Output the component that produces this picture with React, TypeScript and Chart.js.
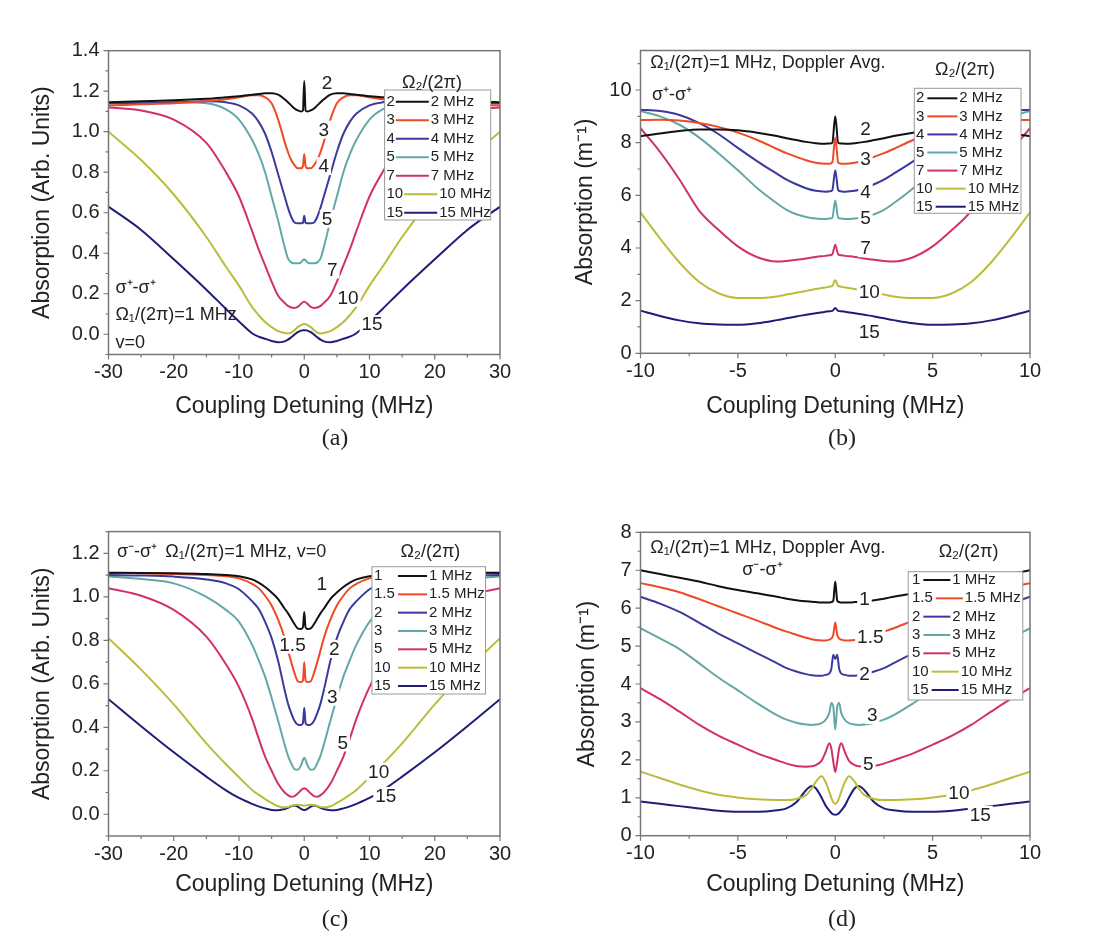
import React, { useEffect, useRef } from "react";
import { Chart, registerables } from "chart.js";

Chart.register(...registerables);

const FONT = "Arial, 'Liberation Sans', Helvetica, sans-serif";

// ---------------- data: panel (a) ----------------
const A_X = [-30, -25, -20, -15, -12, -10, -8, -7, -6, -5, -4, -3, -2.5, -2, -1.5, -1, -0.5, -0.2, 0, 0.2, 0.5, 1, 1.5, 2, 2.5, 3, 4, 5, 6, 7, 8, 10, 12, 15, 20, 25, 30];
const A_Y2 = [1.145, 1.15, 1.155, 1.163, 1.17, 1.175, 1.182, 1.186, 1.19, 1.19, 1.183, 1.16, 1.145, 1.13, 1.115, 1.105, 1.1, 1.105, 1.25, 1.105, 1.1, 1.105, 1.115, 1.13, 1.145, 1.16, 1.183, 1.19, 1.19, 1.186, 1.182, 1.175, 1.17, 1.163, 1.155, 1.15, 1.145];
const A_Y3 = [1.13, 1.135, 1.14, 1.15, 1.16, 1.17, 1.18, 1.18, 1.17, 1.14, 1.06, 0.95, 0.9, 0.86, 0.835, 0.82, 0.82, 0.83, 0.89, 0.83, 0.82, 0.82, 0.835, 0.86, 0.9, 0.95, 1.06, 1.14, 1.17, 1.18, 1.18, 1.17, 1.16, 1.15, 1.14, 1.135, 1.13];
const A_Y4 = [1.14, 1.14, 1.145, 1.15, 1.145, 1.13, 1.09, 1.05, 0.99, 0.9, 0.79, 0.68, 0.625, 0.58, 0.552, 0.548, 0.548, 0.55, 0.585, 0.55, 0.548, 0.548, 0.552, 0.58, 0.625, 0.68, 0.79, 0.9, 0.99, 1.05, 1.09, 1.13, 1.145, 1.15, 1.145, 1.14, 1.14];
const A_Y5 = [1.14, 1.14, 1.145, 1.14, 1.11, 1.06, 0.96, 0.89, 0.8, 0.68, 0.56, 0.43, 0.375, 0.355, 0.35, 0.35, 0.355, 0.365, 0.37, 0.365, 0.355, 0.35, 0.35, 0.355, 0.375, 0.43, 0.56, 0.68, 0.8, 0.89, 0.96, 1.06, 1.11, 1.14, 1.145, 1.14, 1.14];
const A_Y7 = [1.12, 1.105, 1.06, 0.945, 0.8, 0.68, 0.51, 0.42, 0.34, 0.26, 0.19, 0.155, 0.14, 0.132, 0.13, 0.135, 0.15, 0.158, 0.16, 0.158, 0.15, 0.135, 0.13, 0.132, 0.14, 0.155, 0.19, 0.26, 0.34, 0.42, 0.51, 0.68, 0.8, 0.945, 1.06, 1.105, 1.12];
const A_Y10 = [1.0, 0.86, 0.69, 0.48, 0.333, 0.24, 0.135, 0.095, 0.06, 0.035, 0.015, 0.006, 0.004, 0.008, 0.02, 0.035, 0.045, 0.049, 0.05, 0.049, 0.045, 0.035, 0.02, 0.008, 0.004, 0.006, 0.015, 0.035, 0.06, 0.095, 0.135, 0.24, 0.333, 0.48, 0.69, 0.86, 1.0];
const A_Y15 = [0.63, 0.515, 0.37, 0.22, 0.125, 0.063, 0.005, -0.012, -0.022, -0.033, -0.04, -0.035, -0.027, -0.015, -0.002, 0.01, 0.018, 0.02, 0.02, 0.02, 0.018, 0.01, -0.002, -0.015, -0.027, -0.035, -0.04, -0.033, -0.022, -0.012, 0.005, 0.063, 0.125, 0.22, 0.37, 0.515, 0.63];
const A_X_TICKS = [-30, -20, -10, 0, 10, 20, 30];
const A_Y_TICKS = [0, 0.2, 0.4, 0.6, 0.8, 1.0, 1.2, 1.4];
const A_KEYS = ["2", "3", "4", "5", "7", "10", "15"];

// ---------------- data: panel (b) ----------------
const B_X = [-10, -9, -8, -7, -6, -5, -4, -3, -2.5, -2, -1.5, -1, -0.5, -0.3, -0.15, 0, 0.15, 0.3, 0.5, 1, 1.5, 2, 2.5, 3, 4, 5, 6, 7, 8, 9, 10];
const B_Y2 = [8.24, 8.35, 8.44, 8.5, 8.5, 8.47, 8.38, 8.25, 8.17, 8.1, 8.03, 7.98, 7.96, 7.97, 8.0, 9.0, 8.0, 7.97, 7.96, 7.98, 8.03, 8.1, 8.17, 8.25, 8.38, 8.47, 8.5, 8.5, 8.44, 8.35, 8.24];
const B_Y3 = [8.86, 8.87, 8.84, 8.75, 8.6, 8.38, 8.1, 7.76, 7.6, 7.46, 7.33, 7.24, 7.2, 7.2, 7.25, 8.2, 7.25, 7.2, 7.2, 7.24, 7.33, 7.46, 7.6, 7.76, 8.1, 8.38, 8.6, 8.75, 8.84, 8.87, 8.86];
const B_Y4 = [9.25, 9.2, 9.05, 8.75, 8.33, 7.8, 7.29, 6.82, 6.6, 6.42, 6.27, 6.17, 6.14, 6.15, 6.2, 6.95, 6.2, 6.15, 6.14, 6.17, 6.27, 6.42, 6.6, 6.82, 7.29, 7.8, 8.33, 8.75, 9.05, 9.2, 9.25];
const B_Y5 = [9.2, 9.0, 8.68, 8.2, 7.6, 6.95, 6.27, 5.7, 5.45, 5.28, 5.18, 5.12, 5.1, 5.12, 5.15, 5.8, 5.15, 5.12, 5.1, 5.12, 5.18, 5.28, 5.45, 5.7, 6.27, 6.95, 7.6, 8.2, 8.68, 9.0, 9.2];
const B_Y7 = [8.55, 7.65, 6.6, 5.43, 4.69, 4.06, 3.65, 3.49, 3.51, 3.55, 3.6, 3.66, 3.7, 3.72, 3.76, 4.12, 3.76, 3.72, 3.7, 3.66, 3.6, 3.55, 3.51, 3.49, 3.65, 4.06, 4.69, 5.43, 6.6, 7.65, 8.55];
const B_Y10 = [5.35, 4.36, 3.45, 2.72, 2.28, 2.1, 2.1, 2.16, 2.23, 2.3, 2.37, 2.44, 2.5, 2.53, 2.56, 2.78, 2.56, 2.53, 2.5, 2.44, 2.37, 2.3, 2.23, 2.16, 2.1, 2.1, 2.28, 2.72, 3.45, 4.36, 5.35];
const B_Y15 = [1.62, 1.42, 1.25, 1.14, 1.09, 1.08, 1.14, 1.26, 1.33, 1.4, 1.46, 1.52, 1.58, 1.6, 1.61, 1.72, 1.61, 1.6, 1.58, 1.52, 1.46, 1.4, 1.33, 1.26, 1.14, 1.08, 1.09, 1.14, 1.25, 1.42, 1.62];
const B_X_TICKS = [-10, -5, 0, 5, 10];
const B_Y_TICKS = [0, 2, 4, 6, 8, 10];
const B_KEYS = ["2", "3", "4", "5", "7", "10", "15"];

// ---------------- data: panel (c) ----------------
const C_X = [-30, -25, -20, -15, -12, -10, -8, -7, -6, -5, -4, -3, -2.5, -2, -1.5, -1, -0.5, -0.2, 0, 0.2, 0.5, 1, 1.5, 2, 2.5, 3, 4, 5, 6, 7, 8, 10, 12, 15, 20, 25, 30];
const C_Y1 = [1.111, 1.11, 1.108, 1.105, 1.1, 1.095, 1.08, 1.065, 1.045, 1.02, 0.99, 0.945, 0.925, 0.9, 0.875, 0.855, 0.852, 0.86, 0.93, 0.86, 0.852, 0.855, 0.875, 0.9, 0.925, 0.945, 0.99, 1.02, 1.045, 1.065, 1.08, 1.095, 1.1, 1.105, 1.108, 1.11, 1.111];
const C_Y1_5 = [1.11, 1.108, 1.105, 1.1, 1.095, 1.085, 1.06, 1.04, 1.005, 0.96, 0.895, 0.81, 0.755, 0.7, 0.65, 0.612, 0.608, 0.615, 0.7, 0.615, 0.608, 0.612, 0.65, 0.7, 0.755, 0.81, 0.895, 0.96, 1.005, 1.04, 1.06, 1.085, 1.095, 1.1, 1.105, 1.108, 1.11];
const C_Y2 = [1.1, 1.098, 1.093, 1.08, 1.062, 1.035, 0.98, 0.945, 0.885, 0.81, 0.705, 0.57, 0.51, 0.465, 0.43, 0.412, 0.41, 0.42, 0.49, 0.42, 0.41, 0.412, 0.43, 0.465, 0.51, 0.57, 0.705, 0.81, 0.885, 0.945, 0.98, 1.035, 1.062, 1.08, 1.093, 1.098, 1.1];
const C_Y3 = [1.093, 1.082, 1.062, 1.0, 0.94, 0.885, 0.78, 0.71, 0.633, 0.535, 0.43, 0.32, 0.27, 0.235, 0.208, 0.205, 0.225, 0.25, 0.26, 0.25, 0.225, 0.205, 0.208, 0.235, 0.27, 0.32, 0.43, 0.535, 0.633, 0.71, 0.78, 0.885, 0.94, 1.0, 1.062, 1.082, 1.093];
const C_Y5 = [1.039, 1.005, 0.94, 0.817, 0.69, 0.585, 0.44, 0.35, 0.265, 0.2, 0.14, 0.1, 0.088, 0.08, 0.083, 0.095, 0.11, 0.118, 0.12, 0.118, 0.11, 0.095, 0.083, 0.08, 0.088, 0.1, 0.14, 0.2, 0.265, 0.35, 0.44, 0.585, 0.69, 0.817, 0.94, 1.005, 1.039];
const C_Y10 = [0.81, 0.665, 0.505, 0.326, 0.23, 0.17, 0.112, 0.09, 0.07, 0.052, 0.037, 0.031, 0.033, 0.038, 0.043, 0.044, 0.042, 0.04, 0.04, 0.04, 0.042, 0.044, 0.043, 0.038, 0.033, 0.031, 0.037, 0.052, 0.07, 0.09, 0.112, 0.17, 0.23, 0.326, 0.505, 0.665, 0.81];
const C_Y15 = [0.529, 0.405, 0.285, 0.173, 0.11, 0.075, 0.048, 0.036, 0.027, 0.02, 0.019, 0.024, 0.03, 0.037, 0.04, 0.035, 0.025, 0.021, 0.02, 0.021, 0.025, 0.035, 0.04, 0.037, 0.03, 0.024, 0.019, 0.02, 0.027, 0.036, 0.048, 0.075, 0.11, 0.173, 0.285, 0.405, 0.529];
const C_X_TICKS = [-30, -20, -10, 0, 10, 20, 30];
const C_Y_TICKS = [0, 0.2, 0.4, 0.6, 0.8, 1.0, 1.2];
const C_KEYS = ["1", "1.5", "2", "3", "5", "10", "15"];

// ---------------- data: panel (d) ----------------
const D_X = [-10, -9, -8, -7, -6, -5, -4, -3, -2.5, -2, -1.5, -1.2, -1, -0.7, -0.5, -0.3, -0.2, -0.1, 0, 0.1, 0.2, 0.3, 0.5, 0.7, 1, 1.2, 1.5, 2, 2.5, 3, 4, 5, 6, 7, 8, 9, 10];
const D_Y1 = [7.0, 6.9, 6.8, 6.7, 6.58, 6.48, 6.39, 6.3, 6.25, 6.21, 6.18, 6.17, 6.16, 6.15, 6.15, 6.15, 6.16, 6.2, 6.7, 6.2, 6.16, 6.15, 6.15, 6.15, 6.16, 6.17, 6.18, 6.21, 6.25, 6.3, 6.39, 6.48, 6.58, 6.7, 6.8, 6.9, 7.0];
const D_Y1_5 = [6.66, 6.55, 6.42, 6.24, 6.05, 5.86, 5.67, 5.47, 5.38, 5.3, 5.22, 5.18, 5.16, 5.15, 5.15, 5.17, 5.2, 5.3, 5.62, 5.3, 5.2, 5.17, 5.15, 5.15, 5.16, 5.18, 5.22, 5.3, 5.38, 5.47, 5.67, 5.86, 6.05, 6.24, 6.42, 6.55, 6.66];
const D_Y2 = [6.3, 6.12, 5.9, 5.62, 5.33, 5.07, 4.81, 4.55, 4.42, 4.33, 4.26, 4.23, 4.22, 4.22, 4.24, 4.28, 4.4, 4.77, 4.66, 4.77, 4.4, 4.28, 4.24, 4.22, 4.22, 4.23, 4.26, 4.33, 4.42, 4.55, 4.81, 5.07, 5.33, 5.62, 5.9, 6.12, 6.3];
const D_Y3 = [5.47, 5.2, 4.92, 4.55, 4.17, 3.83, 3.49, 3.18, 3.06, 2.98, 2.93, 2.92, 2.93, 2.97, 3.05, 3.25, 3.5, 3.4, 2.8, 3.4, 3.5, 3.25, 3.05, 2.97, 2.93, 2.92, 2.93, 2.98, 3.06, 3.18, 3.49, 3.83, 4.17, 4.55, 4.92, 5.2, 5.47];
const D_Y5 = [3.89, 3.6, 3.27, 2.93, 2.64, 2.4, 2.17, 1.99, 1.9, 1.84, 1.82, 1.83, 1.86, 1.98, 2.2, 2.44, 2.3, 1.95, 1.68, 1.95, 2.3, 2.44, 2.2, 1.98, 1.86, 1.83, 1.82, 1.84, 1.9, 1.99, 2.17, 2.4, 2.64, 2.93, 3.27, 3.6, 3.89];
const D_Y10 = [1.69, 1.52, 1.35, 1.2, 1.08, 1.01, 0.96, 0.94, 0.94, 0.97, 1.07, 1.25, 1.42, 1.57, 1.42, 1.15, 1.0, 0.88, 0.84, 0.88, 1.0, 1.15, 1.42, 1.57, 1.42, 1.25, 1.07, 0.97, 0.94, 0.94, 0.96, 1.01, 1.08, 1.2, 1.35, 1.52, 1.69];
const D_Y15 = [0.9, 0.84, 0.78, 0.72, 0.66, 0.63, 0.63, 0.67, 0.72, 0.88, 1.2, 1.31, 1.25, 1.0, 0.8, 0.66, 0.6, 0.56, 0.55, 0.56, 0.6, 0.66, 0.8, 1.0, 1.25, 1.31, 1.2, 0.88, 0.72, 0.67, 0.63, 0.63, 0.66, 0.72, 0.78, 0.84, 0.9];
const D_X_TICKS = [-10, -5, 0, 5, 10];
const D_Y_TICKS = [0, 1, 2, 3, 4, 5, 6, 7, 8];
const D_KEYS = ["1", "1.5", "2", "3", "5", "10", "15"];

// ---------------- styles ----------------
const PALETTE = ["#111111", "#ee4a28", "#3a3a9e", "#62a8a6", "#d2306c", "#bcbc3c", "#1e1e78"];
const TEXT = "#222222";
const FRAME = "#777777";

type Label = { text: string; x: number; y: number };
type Note = { text: string; x: number; y: number; align?: CanvasTextAlign };
type Legend = { x: number; y: number; w: number; h: number; y0: number; dy: number; px: number; col: number; gap: number; len: number; tx: number; ty: number };
type Panel = {
  x: number[];
  ys: number[][];
  keys: string[];
  xMin: number; xMax: number; yMin: number; yMax: number;
  xTicks: number[]; yTicks: number[];
  xMinor: number; yMinor: number;
  yDigits: number;
  yTitle: string;
  area: { left: number; right: number; top: number; bottom: number };
  yTitleX: number; xTitleY: number;
  labels: Label[];
  legend: Legend;
  notes: Note[];
};

const W = 1107;
const H = 947;

const PANELS: Panel[] = [
  {
    x: A_X, ys: [A_Y2, A_Y3, A_Y4, A_Y5, A_Y7, A_Y10, A_Y15], keys: A_KEYS,
    xMin: -30, xMax: 30, yMin: -0.1, yMax: 1.4, xTicks: A_X_TICKS, yTicks: A_Y_TICKS, xMinor: 5, yMinor: 0.1, yDigits: 1,
    yTitle: "Absorption (Arb. Units)",
    area: { left: 108.5, right: 500, top: 50.7, bottom: 354.5 }, yTitleX: 43, xTitleY: 406.7,
    labels: [
      { text: "2", x: 3.5, y: 1.24 }, { text: "3", x: 3.0, y: 1.01 }, { text: "4", x: 3.0, y: 0.83 },
      { text: "5", x: 3.5, y: 0.57 }, { text: "7", x: 4.3, y: 0.32 }, { text: "10", x: 6.7, y: 0.18 }, { text: "15", x: 10.4, y: 0.05 },
    ],
    legend: { x: 384.6, y: 90, w: 106.1, h: 130, y0: 101.7, dy: 18.5, px: 386.5, col: 0, gap: 1, len: 33, tx: 432, ty: 83 },
    notes: [
      { text: "σ⁺-σ⁺", x: 115.4, y: 288.3 },
      { text: "Ω₁/(2π)=1 MHz", x: 115.4, y: 315 },
      { text: "v=0", x: 115.4, y: 343.3 },
    ],
  },
  {
    x: B_X, ys: [B_Y2, B_Y3, B_Y4, B_Y5, B_Y7, B_Y10, B_Y15], keys: B_KEYS,
    xMin: -10, xMax: 10, yMin: 0, yMax: 11.5, xTicks: B_X_TICKS, yTicks: B_Y_TICKS, xMinor: 2.5, yMinor: 1, yDigits: 0,
    yTitle: "Absorption (m⁻¹)",
    area: { left: 640.5, right: 1030, top: 50.5, bottom: 353.3 }, yTitleX: 586, xTitleY: 406.7,
    labels: [
      { text: "2", x: 1.55, y: 8.52 }, { text: "3", x: 1.55, y: 7.38 }, { text: "4", x: 1.55, y: 6.15 },
      { text: "5", x: 1.55, y: 5.13 }, { text: "7", x: 1.55, y: 3.99 }, { text: "10", x: 1.75, y: 2.34 }, { text: "15", x: 1.75, y: 0.82 },
    ],
    legend: { x: 914.3, y: 88.3, w: 106.7, h: 125, y0: 98.3, dy: 18.07, px: 916, col: 0, gap: 3, len: 30, tx: 965, ty: 70 },
    notes: [
      { text: "Ω₁/(2π)=1 MHz, Doppler Avg.", x: 650.3, y: 63.3 },
      { text: "σ⁺-σ⁺", x: 652, y: 95 },
    ],
  },
  {
    x: C_X, ys: [C_Y1, C_Y1_5, C_Y2, C_Y3, C_Y5, C_Y10, C_Y15], keys: C_KEYS,
    xMin: -30, xMax: 30, yMin: -0.1, yMax: 1.3, xTicks: C_X_TICKS, yTicks: C_Y_TICKS, xMinor: 5, yMinor: 0.1, yDigits: 1,
    yTitle: "Absorption (Arb. Units)",
    area: { left: 108.5, right: 500, top: 531.6, bottom: 836 }, yTitleX: 43, xTitleY: 885,
    labels: [
      { text: "1", x: 2.7, y: 1.06 }, { text: "1.5", x: -1.8, y: 0.78 }, { text: "2", x: 4.6, y: 0.76 },
      { text: "3", x: 4.3, y: 0.54 }, { text: "5", x: 5.9, y: 0.33 }, { text: "10", x: 11.4, y: 0.196 }, { text: "15", x: 12.5, y: 0.084 },
    ],
    legend: { x: 371.9, y: 566.7, w: 113.6, h: 127.3, y0: 576, dy: 18.33, px: 374, col: 398, gap: 3, len: 29, tx: 430.4, ty: 551.7 },
    notes: [
      { text: "σ⁻-σ⁺", x: 117, y: 551.7 },
      { text: "Ω₁/(2π)=1 MHz, v=0", x: 165.3, y: 551.7 },
    ],
  },
  {
    x: D_X, ys: [D_Y1, D_Y1_5, D_Y2, D_Y3, D_Y5, D_Y10, D_Y15], keys: D_KEYS,
    xMin: -10, xMax: 10, yMin: 0, yMax: 8, xTicks: D_X_TICKS, yTicks: D_Y_TICKS, xMinor: 2.5, yMinor: 0.5, yDigits: 0,
    yTitle: "Absorption (m⁻¹)",
    area: { left: 640.5, right: 1030, top: 532.3, bottom: 835.7 }, yTitleX: 588, xTitleY: 885,
    labels: [
      { text: "1", x: 1.5, y: 6.26 }, { text: "1.5", x: 1.8, y: 5.25 }, { text: "2", x: 1.5, y: 4.28 },
      { text: "3", x: 1.9, y: 3.18 }, { text: "5", x: 1.7, y: 1.9 }, { text: "10", x: 6.35, y: 1.13 }, { text: "15", x: 7.45, y: 0.55 },
    ],
    legend: { x: 908.2, y: 571.7, w: 114.6, h: 128.3, y0: 580, dy: 18.33, px: 912, col: 0, gap: 3, len: 27, tx: 968.6, ty: 551.7 },
    notes: [
      { text: "Ω₁/(2π)=1 MHz, Doppler Avg.", x: 650.3, y: 548 },
      { text: "σ⁻-σ⁺", x: 762.4, y: 570, align: "center" },
    ],
  },
];

const CAPTIONS = [
  { text: "(a)", x: 335, y: 437 },
  { text: "(b)", x: 842, y: 437 },
  { text: "(c)", x: 335, y: 918 },
  { text: "(d)", x: 842, y: 918 },
];

const TITLE_SIZE = 23;
const TITLE_HALF = (TITLE_SIZE * 1.2) / 2 + 4;

const decorPlugin = {
  id: "decor",
  afterDatasetsDraw(chart: any, _args: any, opts: any) {
    const p: Panel = opts.panel;
    const ctx: CanvasRenderingContext2D = chart.ctx;
    const xs = chart.scales.x;
    const ys = chart.scales.y;
    const a = chart.chartArea;
    ctx.save();

    // curve labels with white background
    ctx.font = `19px ${FONT}`;
    ctx.textAlign = "center";
    ctx.textBaseline = "middle";
    for (const l of p.labels) {
      const px = xs.getPixelForValue(l.x);
      const py = ys.getPixelForValue(l.y);
      const w = ctx.measureText(l.text).width;
      ctx.fillStyle = "#ffffff";
      ctx.fillRect(px - w / 2 - 2, py - 9, w + 4, 18);
      ctx.fillStyle = TEXT;
      ctx.fillText(l.text, px, py + 1);
    }

    // legend
    const lg = p.legend;
    ctx.fillStyle = "#ffffff";
    ctx.fillRect(lg.x, lg.y, lg.w, lg.h);
    ctx.strokeStyle = "#9a9a9a";
    ctx.lineWidth = 1;
    ctx.strokeRect(lg.x, lg.y, lg.w, lg.h);
    ctx.font = `15px ${FONT}`;
    ctx.textAlign = "left";
    ctx.textBaseline = "middle";
    p.keys.forEach((k, i) => {
      const ry = lg.y0 + i * lg.dy;
      ctx.fillStyle = TEXT;
      ctx.fillText(k, lg.px, ry);
      const pw = ctx.measureText(k).width;
      const lx = Math.max(lg.px + pw + lg.gap, lg.col);
      ctx.strokeStyle = PALETTE[i];
      ctx.lineWidth = 2;
      ctx.beginPath();
      ctx.moveTo(lx, ry);
      ctx.lineTo(lx + lg.len, ry);
      ctx.stroke();
      ctx.fillStyle = TEXT;
      ctx.fillText(`${k} MHz`, lx + lg.len + 2, ry);
    });
    ctx.font = `18px ${FONT}`;
    ctx.textAlign = "center";
    ctx.fillText("Ω₂/(2π)", lg.tx, lg.ty);

    // notes
    ctx.font = `18px ${FONT}`;
    for (const n of p.notes) {
      ctx.textAlign = n.align || "left";
      ctx.fillText(n.text, n.x, n.y);
    }

    // frame
    ctx.strokeStyle = FRAME;
    ctx.lineWidth = 1.5;
    ctx.strokeRect(a.left, a.top, a.right - a.left, a.bottom - a.top);

    // tick marks (outside)
    ctx.lineWidth = 1.2;
    const eps = 1e-6;
    const isMajor = (v: number, arr: number[]) => arr.some((t) => Math.abs(t - v) < eps);
    ctx.beginPath();
    for (let v = Math.ceil(p.xMin / p.xMinor - eps) * p.xMinor; v <= p.xMax + eps; v += p.xMinor) {
      const px = xs.getPixelForValue(v);
      const len = isMajor(v, p.xTicks) ? 5 : 3;
      ctx.moveTo(px, a.bottom);
      ctx.lineTo(px, a.bottom + len);
    }
    for (let v = Math.ceil(p.yMin / p.yMinor - eps) * p.yMinor; v <= p.yMax + eps; v += p.yMinor) {
      const py = ys.getPixelForValue(v);
      const len = isMajor(v, p.yTicks) ? 5 : 3;
      ctx.moveTo(a.left, py);
      ctx.lineTo(a.left - len, py);
    }
    ctx.stroke();
    ctx.restore();
  },
};

function PanelChart({ panel }: { panel: Panel }) {
  const ref = useRef<HTMLCanvasElement | null>(null);
  useEffect(() => {
    const canvas = ref.current;
    if (!canvas) return;
    const ar = panel.area;
    const padL = panel.yTitleX - TITLE_HALF;
    const yW = ar.left - padL;
    const axisBottom = panel.xTitleY + TITLE_HALF;
    const xH = axisBottom - ar.bottom;
    const datasets = panel.ys.map((ys, i) => ({
      label: panel.keys[i],
      data: panel.x.map((xv, j) => ({ x: xv, y: ys[j] })),
      borderColor: PALETTE[i],
      backgroundColor: PALETTE[i],
      borderWidth: 2,
      pointRadius: 0,
      fill: false,
      cubicInterpolationMode: "monotone" as const,
    }));
    const tickFont = { family: FONT, size: 20 };
    const titleFont = { family: FONT, size: TITLE_SIZE };
    const chart = new Chart(canvas, {
      type: "line",
      data: { datasets },
      plugins: [decorPlugin],
      options: {
        responsive: false,
        animation: false,
        events: [],
        layout: { padding: { left: padL, right: W - ar.right, top: ar.top, bottom: H - axisBottom } },
        plugins: {
          legend: { display: false },
          tooltip: { enabled: false },
          decor: { panel },
        } as any,
        scales: {
          x: {
            type: "linear",
            min: panel.xMin,
            max: panel.xMax,
            afterBuildTicks: (s: any) => { s.ticks = panel.xTicks.map((v) => ({ value: v })); },
            afterFit: (s: any) => { s.height = xH; },
            ticks: { font: tickFont, color: TEXT, padding: 1, maxRotation: 0, autoSkip: false, callback: (v: any) => String(Number(v)) },
            grid: { display: false, drawTicks: true, tickLength: 5 },
            border: { display: false },
            title: { display: true, text: "Coupling Detuning (MHz)", font: titleFont, color: TEXT, padding: { top: 4, bottom: 4 } },
          },
          y: {
            type: "linear",
            min: panel.yMin,
            max: panel.yMax,
            afterBuildTicks: (s: any) => { s.ticks = panel.yTicks.map((v) => ({ value: v })); },
            afterFit: (s: any) => { s.width = yW; },
            ticks: { font: tickFont, color: TEXT, padding: 4, autoSkip: false, callback: (v: any) => Number(v).toFixed(panel.yDigits) },
            grid: { display: false, drawTicks: true, tickLength: 5 },
            border: { display: false },
            title: { display: true, text: panel.yTitle, font: titleFont, color: TEXT, padding: { top: 4, bottom: 4 } },
          },
        },
      } as any,
    });
    return () => chart.destroy();
  }, [panel]);
  return (
    <canvas
      ref={ref}
      width={W}
      height={H}
      style={{ position: "absolute", left: 0, top: 0, width: W, height: H, pointerEvents: "none" }}
    />
  );
}

export default function App() {
  return (
    <div style={{ position: "absolute", left: 0, top: 0, width: W, height: H, background: "#ffffff", overflow: "hidden" }}>
      {PANELS.map((p, i) => (
        <PanelChart key={i} panel={p} />
      ))}
      {CAPTIONS.map((c) => (
        <div
          key={c.text}
          style={{
            position: "absolute",
            left: c.x - 30,
            top: c.y - 15,
            width: 60,
            height: 30,
            lineHeight: "30px",
            textAlign: "center",
            fontFamily: "'Liberation Serif', 'DejaVu Serif', serif",
            fontSize: 24,
            color: TEXT,
          }}
        >
          {c.text}
        </div>
      ))}
    </div>
  );
}
